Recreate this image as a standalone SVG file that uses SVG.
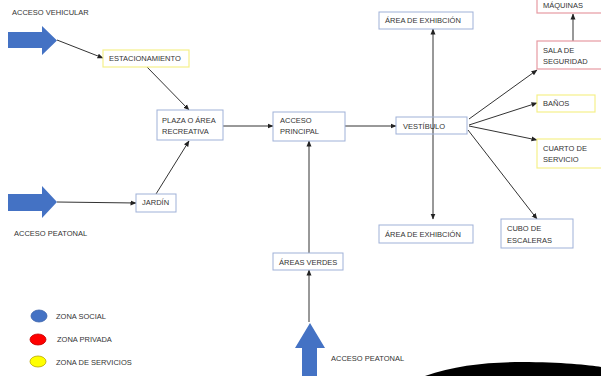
<svg xmlns="http://www.w3.org/2000/svg" width="601" height="376" viewBox="0 0 601 376">
<defs>
<marker id="ah" markerUnits="userSpaceOnUse" markerWidth="6" markerHeight="6" refX="5.5" refY="3" orient="auto">
<path d="M0,0.5 L6,3 L0,5.5 z" fill="#222"/>
</marker>
<style>
text{font-family:"Liberation Sans",Arial,sans-serif;font-size:7.5px;fill:#333}
.b{fill:#fff;stroke:#9fb1d8;stroke-width:1}
.y{fill:#fff;stroke:#f5f08a;stroke-width:1.2}
.r{fill:#fff;stroke:#e79aa2;stroke-width:1.2}
.c{stroke:#333;stroke-width:1;fill:none;marker-end:url(#ah)}
.big{fill:#4472c4}
</style>
</defs>
<rect width="601" height="376" fill="#fff"/>
<g id="connectors">
<line class="c" x1="57" y1="40" x2="103" y2="58"/>
<line class="c" x1="147" y1="67" x2="189" y2="110"/>
<line class="c" x1="57" y1="202" x2="136" y2="203"/>
<line class="c" x1="156" y1="194" x2="189" y2="141"/>
<line class="c" x1="223" y1="126" x2="273" y2="126"/>
<line class="c" x1="345" y1="126" x2="396" y2="126"/>
<line class="c" x1="309" y1="253" x2="309" y2="141"/>
<line class="c" x1="309" y1="322" x2="309" y2="270"/>
<line class="c" x1="573" y1="41" x2="573" y2="14"/>
<line class="c" x1="469" y1="119" x2="537" y2="70"/>
<line class="c" x1="469" y1="125" x2="537" y2="103"/>
<line class="c" x1="469" y1="126" x2="537" y2="140"/>
<line class="c" x1="468" y1="130" x2="537" y2="219"/>
<line class="c" x1="433" y1="126" x2="433" y2="29"/>
<line class="c" x1="433" y1="126" x2="433" y2="219"/>
</g>
<g id="acceso-vehicular">
<polygon class="big" points="8,32 42,32 42,26 57,40.5 42,55 42,48 8,48"/>
<text x="12" y="15">ACCESO VEHICULAR</text>
</g>
<g id="acceso-peatonal-1">
<polygon class="big" points="8,194 42,194 42,186 57,202 42,218 42,211 8,211"/>
<text x="14" y="235.5">ACCESO PEATONAL</text>
</g>
<g id="acceso-peatonal-2">
<polygon class="big" points="302,376 302,348 295,348 310,323 325,348 317,348 317,376"/>
<text x="331" y="360.5">ACCESO  PEATONAL</text>
</g>
<g id="estacionamiento">
<rect class="y" x="103" y="50" width="86" height="17"/>
<text x="109" y="61">ESTACIONAMIENTO</text>
</g>
<g id="plaza">
<rect class="b" x="157" y="110" width="66" height="30"/>
<text x="162" y="122.5">PLAZA O ÁREA</text>
<text x="162" y="134">RECREATIVA</text>
</g>
<g id="jardin">
<rect class="b" x="136" y="194" width="40" height="18"/>
<text x="142" y="205">JARDÍN</text>
</g>
<g id="acceso-principal">
<rect class="b" x="273" y="112" width="72" height="29"/>
<text x="280" y="122.5">ACCESO</text>
<text x="280" y="134">PRINCIPAL</text>
</g>
<g id="areas-verdes">
<rect class="b" x="273" y="253" width="70" height="17"/>
<text x="279" y="264.5">ÁREAS VERDES</text>
</g>
<g id="area-exhibicion-1">
<rect class="b" x="379" y="12" width="94" height="17"/>
<text x="385" y="23">ÁREA DE EXHIBCIÓN</text>
</g>
<g id="area-exhibicion-2">
<rect class="b" x="379" y="225" width="94" height="18"/>
<text x="385" y="236.5">ÁREA DE EXHIBCIÓN</text>
</g>
<g id="vestibulo">
<rect class="b" x="396" y="117" width="71" height="17" fill-opacity="0"/>
<text x="403" y="128.5">VESTÍBULO</text>
</g>
<g id="maquinas">
<rect class="r" x="537" y="-10" width="70" height="23"/>
<text x="543" y="7.5">MÁQUINAS</text>
</g>
<g id="sala-seguridad">
<rect class="r" x="537" y="41" width="70" height="28"/>
<text x="543" y="52.5">SALA DE</text>
<text x="543" y="64">SEGURIDAD</text>
</g>
<g id="banos">
<rect class="y" x="537" y="95" width="58" height="17"/>
<text x="543" y="106">BAÑOS</text>
</g>
<g id="cuarto-servicio">
<rect class="y" x="537" y="139" width="70" height="29"/>
<text x="543" y="150.5">CUARTO DE</text>
<text x="543" y="162">SERVICIO</text>
</g>
<g id="cubo-escaleras">
<rect class="b" x="501" y="219" width="72" height="29"/>
<text x="507" y="231">CUBO DE</text>
<text x="507" y="242.5">ESCALERAS</text>
</g>
<g id="legend">
<ellipse cx="39" cy="316" rx="8" ry="6" fill="#4472c4" stroke="#3a62ab" stroke-width="0.8"/>
<text x="56" y="318.5">ZONA SOCIAL</text>
<ellipse cx="38" cy="339.5" rx="8" ry="5.5" fill="#ff0000" stroke="#c00000" stroke-width="0.8"/>
<text x="57" y="342">ZONA PRIVADA</text>
<ellipse cx="38" cy="361.5" rx="8" ry="5.5" fill="#ffff00" stroke="#b8a400" stroke-width="0.8"/>
<text x="56" y="364.5">ZONA DE SERVICIOS</text>
</g>
<path d="M425,376 C455,365 490,362 522,362 C560,362 590,365 601,367 L601,376 Z" fill="#000"/>
</svg>
